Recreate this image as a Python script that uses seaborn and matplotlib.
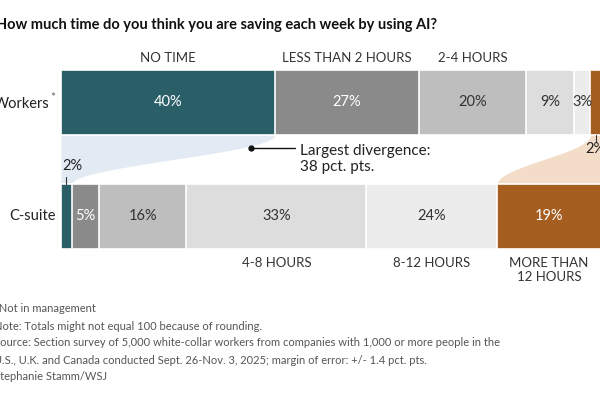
import numpy as np
import pandas as pd
import matplotlib
matplotlib.use("Agg")
import matplotlib.pyplot as plt
import seaborn as sns

# survey answers, percent of respondents
groups = ["Workers", "C-suite"]
answers = ["NO TIME", "LESS THAN 2 HOURS", "2-4 HOURS", "4-8 HOURS", "8-12 HOURS",
           "MORE THAN\n12 HOURS"]
workers = [40, 27, 20, 9, 3, 2]
csuite = [2, 5, 16, 33, 24, 19]

colors = ["#2b5f68", "#8a8a8a", "#bebebe", "#dddddd", "#ececec", "#a65d20"]
text_colors = ["white", "white", "#333333", "#333333", "#333333", "white"]

sns.set_theme(style="white")
plt.rcParams["font.family"] = ["Lato", "DejaVu Sans"]


def build_frame():
    rows = []
    for g, vals in zip(groups, [workers, csuite]):
        vals = np.array(vals, dtype=float)
        share = vals / vals.sum() * 100  # bars are scaled to full width
        cum = np.cumsum(share)
        for a, v, s, c in zip(answers, vals, share, cum):
            rows.append({"group": g, "answer": a, "value": v, "share": s,
                         "end": c, "start": c - s})
    return pd.DataFrame(rows)


def ease(t):
    return (1 + np.cos(np.pi * t)) / 2


df = build_frame()

fig = plt.figure(figsize=(6, 4), dpi=100)
ax = fig.add_axes([61 / 600, 0, 540 / 600, 1])

# stacked bars by overdrawing cumulative totals, largest first
sns.barplot(data=df, x="end", y="group", hue="answer", order=groups,
            hue_order=answers[::-1], palette=dict(zip(answers, colors)),
            dodge=False, width=0.57, saturation=1, edgecolor="white",
            linewidth=1.2, legend=False, ax=ax)

ax.set_xlim(0, 100)
ax.set_ylim(2.61, -0.899)
ax.axis("off")

half = 0.57 / 2
w = df[df.group == "Workers"].set_index("answer")
c = df[df.group == "C-suite"].set_index("answer")

# connecting bands
yy = np.linspace(half, 1 - half, 100)
t = (yy - half) / (1 - 2 * half)
a0 = answers[0]
right = c.loc[a0, "end"] + (w.loc[a0, "end"] - c.loc[a0, "end"]) * ease(t)
ax.fill_betweenx(yy, 0, right, color="#e2ebf3", lw=0, zorder=0)
a5 = answers[-1]
left = c.loc[a5, "start"] + (w.loc[a5, "start"] - c.loc[a5, "start"]) * ease(t)
ax.fill_betweenx(yy, left, 100, color="#f3dcc8", lw=0, zorder=0)

# percent labels inside bars
for i, a in enumerate(answers):
    for g, frame in [(0, w), (1, c)]:
        row = frame.loc[a]
        if row["value"] < 3:
            continue
        ax.text((row["start"] + row["end"]) / 2, g, f"{row['value']:.0f}%",
                ha="center", va="center", fontsize=10.5, color=text_colors[i])

# small segments labelled outside
r = c.loc[a0]
mid = (r["start"] + r["end"]) / 2
ax.plot([mid, mid], [1 - half, 1 - half - 0.06], color="#333333", lw=0.8)
ax.text(r["start"] + 0.2, 1 - half - 0.1, f"{r['value']:.0f}%",
        ha="left", va="bottom", fontsize=10.5, color="#222222")
r = w.loc[a5]
mid = (r["start"] + r["end"]) / 2
ax.plot([mid, mid], [half, half + 0.05], color="#333333", lw=0.8)
ax.text(mid, half + 0.06, f"{r['value']:.0f}%",
        ha="center", va="top", fontsize=10.5, color="#222222")

# answer labels: top row for the first three, bottom row for the rest
for a in answers[:3]:
    r = w.loc[a]
    ax.text((r["start"] + r["end"]) / 2, -half - 0.05, a, ha="center",
            va="bottom", fontsize=9.5, color="#333333")
for a in answers[3:]:
    r = c.loc[a]
    ax.text((r["start"] + r["end"]) / 2, 1 + half + 0.07, a, ha="center",
            va="top", fontsize=9.5, color="#333333", linespacing=1.25)

# group labels
ax.text(-2.2, 0.01, "Workers", ha="right", va="center", fontsize=10.5, color="#222222")
ax.text(-2.0, -0.04, "*", ha="left", va="center", fontsize=8.5, color="#666666")
ax.text(-0.9, 1, "C-suite", ha="right", va="center", fontsize=10.5, color="#222222")

# annotation
ax.plot([35.2, 43.3], [0.4, 0.4], color="#111111", lw=1)
ax.plot([35.2], [0.4], "o", color="#111111", ms=3.5)
ax.text(44.3, 0.365, "Largest divergence:\n38 pct. pts.", ha="left", va="top",
        fontsize=11, color="#222222", linespacing=1.2)

fig.text(-0.006, 0.938, "How much time do you think you are saving each week by using AI?",
         ha="left", va="center", fontsize=10.5, fontweight="bold", color="#111111")

notes = ["*Not in management",
         "Note: Totals might not equal 100 because of rounding.",
         "Source: Section survey of 5,000 white-collar workers from companies with 1,000 or more people in the",
         "U.S., U.K. and Canada conducted Sept. 26-Nov. 3, 2025; margin of error: +/- 1.4 pct. pts.",
         "Stephanie Stamm/WSJ"]
for k, line in enumerate(notes):
    fig.text(-0.010, 1 - (309 + k * 17) / 400, line, ha="left", va="center",
             fontsize=8, color="#555555")

fig.savefig("out.png", dpi=100)
